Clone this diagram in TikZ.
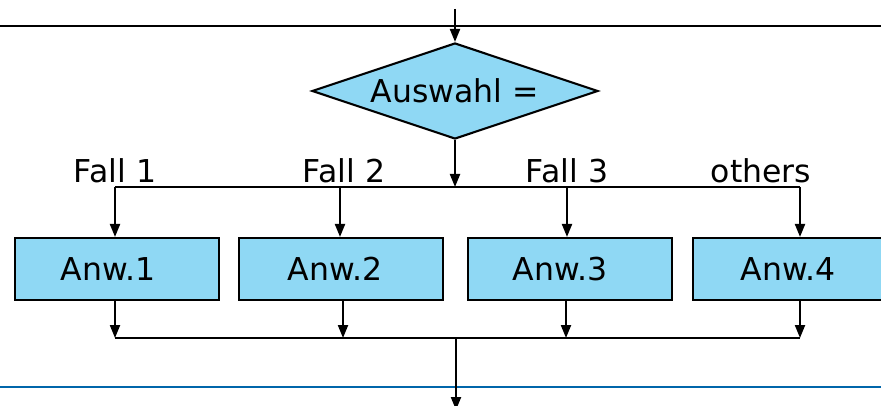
\documentclass[tikz,border=0pt]{standalone}
\usepackage{fontspec}
\setmainfont{DejaVu Sans}
\usetikzlibrary{shapes.geometric,arrows.meta}
\definecolor{anwblue}{RGB}{143,216,244}
\definecolor{rahmenblau}{RGB}{0,102,170}
\begin{document}
\begin{tikzpicture}[x=1pt, y=-1pt, line width=2.1pt,
        font=\fontsize{31.5}{36}\selectfont,
        >={Triangle[length=13pt,width=10pt]},
        anw/.style={rectangle, draw, fill=anwblue, minimum width=204pt, minimum height=62pt, inner sep=0pt},
        auswahl/.style={diamond, draw, fill=anwblue, aspect=3, minimum width=286pt, minimum height=96pt, inner sep=0pt}]
        \useasboundingbox (0,0) rectangle (881,406);
        \clip (0,0) rectangle (881,406);

        \draw[line width=2.8pt] (0,26) -- (881,26);
        \draw[line width=2.8pt, rahmenblau] (0,387) -- (881,387);

        \node[auswahl] (S) at (455,91) {Auswahl =};
        \coordinate (Ein) at (455,9);
        \draw[->] (Ein) -- (S.north);

        \coordinate (V) at (455,187);
        \draw[->] (S.south) -- (V);

        \coordinate (F1) at (115,187);
        \coordinate (F2) at (340,187);
        \coordinate (F3) at (567,187);
        \coordinate (F4) at (800,187);
        \draw (F1) -- (F4);

        \node[anchor=base] (L1) at (115,183) {Fall 1};
        \node[anchor=base] (L2) at (344,183) {Fall 2};
        \node[anchor=base] (L3) at (567,183) {Fall 3};
        \node[anchor=base] (L4) at (761,183) {others};

        % Text sitzt etwas links der Kastenmitte
        \node[anw] (A1) at (117,269) {Anw.1\hspace*{18pt}};
        \node[anw] (A2) at (341,269) {Anw.2\hspace*{12pt}};
        \node[anw] (A3) at (570,269) {Anw.3\hspace*{20pt}};
        \node[anw, anchor=west, minimum width=230pt] (A4) at (692,269) {Anw.4\hspace*{40pt}};

        \draw[->] (F1) -- (F1 |- A1.north);
        \draw[->] (F2) -- (F2 |- A2.north);
        \draw[->] (F3) -- (F3 |- A3.north);
        \draw[->] (F4) -- (F4 |- A4.north);

        \coordinate (U1) at (115,338);
        \coordinate (U2) at (343,338);
        \coordinate (U3) at (566,338);
        \coordinate (U4) at (800,338);
        \draw (U1) -- (U4);

        \draw[->] (U1 |- A1.south) -- (U1);
        \draw[->] (U2 |- A2.south) -- (U2);
        \draw[->] (U3 |- A3.south) -- (U3);
        \draw[->] (U4 |- A4.south) -- (U4);

        \coordinate (M) at (456,338);
        \coordinate (Aus) at (456,410);
        \draw[->] (M) -- (Aus);
    \end{tikzpicture}
\end{document}
